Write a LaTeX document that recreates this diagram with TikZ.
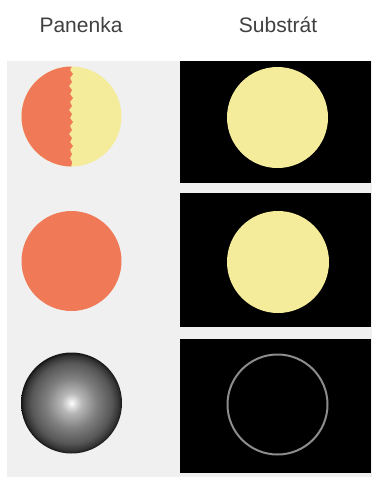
\documentclass[tikz,border=0pt]{standalone}
\usepackage{fontspec}
\setmainfont{Liberation Sans}
\definecolor{bggray}{HTML}{F0F0F0}
\definecolor{dollorange}{HTML}{F07A58}
\definecolor{dollyellow}{HTML}{F4EC9A}
\definecolor{labelgray}{HTML}{404040}
\definecolor{ringgray}{HTML}{8C8C8C}
\pgfdeclareradialshading{sphereshade}{\pgfpoint{0bp}{0bp}}{%
  color(0bp)=(white);
  color(2bp)=(black!12);
  color(5bp)=(black!28);
  color(12.5bp)=(black!50);
  color(20bp)=(black!66);
  color(23.5bp)=(black!80);
  color(25bp)=(black!92);
  color(50bp)=(black)}
\begin{document}
\begin{tikzpicture}[x=1pt,y=-1pt,
  lbl/.style={font=\fontsize{21}{24}\selectfont, text=labelgray, inner sep=0pt},
  panel/.style={fill=black, draw=none},
  disk/.style={circle, minimum size=100pt, inner sep=0pt, draw=none}]
\path[use as bounding box] (0,0) rectangle (372,477);
\fill[white] (0,0) rectangle (372,477);
\fill[bggray] (7,61) rectangle (372,477);
% labels
\node[lbl] (lp) at (81,25) {Panenka};
\node[lbl] (ls) at (278,25) {Substrát};
% black panels
\fill[panel] (180,61) rectangle (371,183);
\fill[panel] (180,193) rectangle (371,327);
\fill[panel] (180,339) rectangle (371,473);
% row 1: half orange, half yellow doll
\begin{scope}
  \clip (71.5,116.5) circle (50);
  \fill[dollyellow] (21,66) rectangle (122,167);
  \fill[dollorange] (20,60) -- (72,60) -- (72,66) -- (70,70) -- (73,74) -- (70,78) -- (72,82)
     -- (69,86) -- (72,90) -- (70,94) -- (73,98) -- (70,102) -- (72,106) -- (69,110)
     -- (72,114) -- (70,118) -- (73,122) -- (70,126) -- (72,130) -- (69,134) -- (72,138)
     -- (70,142) -- (73,146) -- (70,150) -- (72,154) -- (70,158) -- (72,162) -- (71,168)
     -- (71,175) -- (20,175) -- cycle;
\end{scope}
\node[disk] (s1) at (277.5,117.5) {};
\fill[dollyellow] (s1) circle (50.5);
% row 2
\node[disk, fill=dollorange] (p2) at (71.5,261) {};
\node[disk, fill=dollyellow, minimum size=102pt] (s2) at (278,262) {};
% row 3
\node[disk, shading=sphereshade, minimum size=101pt] (p3) at (71.5,403) {};
\node[circle, minimum size=100pt, inner sep=0pt, draw=ringgray, line width=2pt] (s3) at (277.5,404.5) {};
\end{tikzpicture}
\end{document}
